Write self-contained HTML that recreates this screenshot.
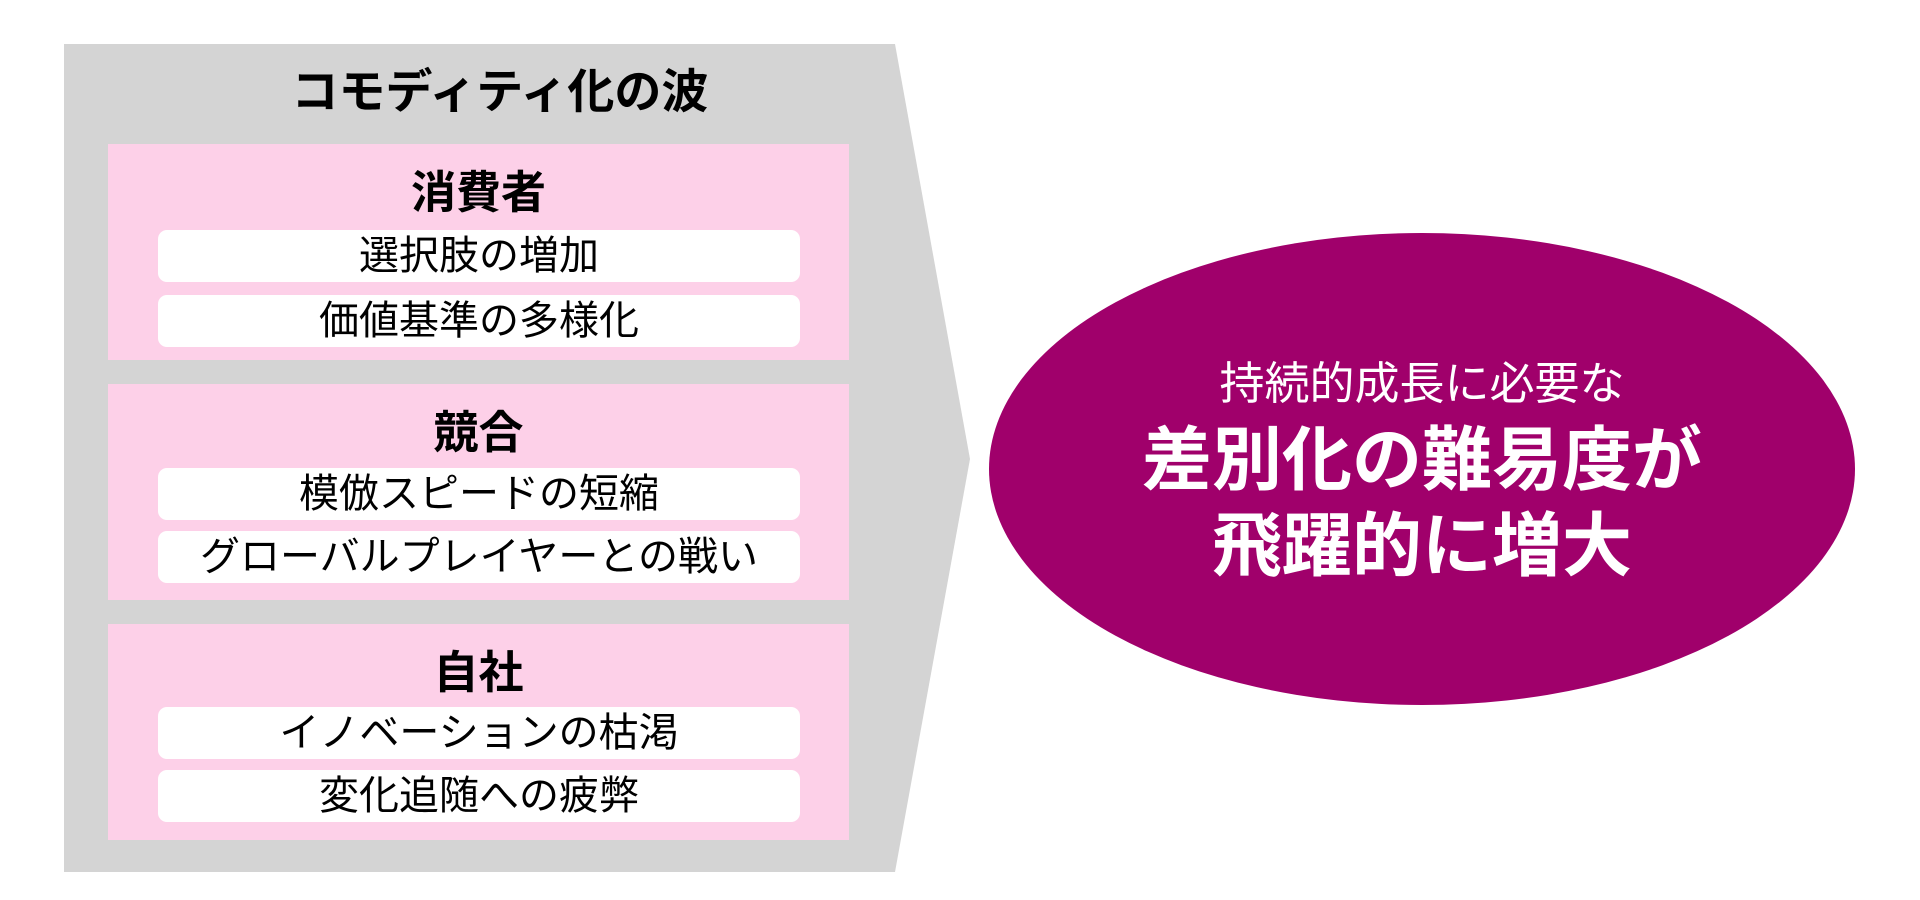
<!DOCTYPE html>
<html><head><meta charset="utf-8"><style>
body{margin:0;width:1920px;height:900px;background:#fff;position:relative;overflow:hidden;font-family:"Liberation Sans","Noto Sans CJK JP",sans-serif;}
.a{position:absolute;}
.pink{position:absolute;left:108px;width:741px;height:216px;background:#FDD0E8;}
.h{position:absolute;left:0;width:100%;text-align:center;font-weight:bold;font-size:45px;line-height:50px;top:24px;color:#000;}
.w{position:absolute;left:50px;width:642px;height:52px;background:#fff;border-radius:9px;text-align:center;font-size:40px;line-height:52px;color:#000;}
.e{position:absolute;width:100%;text-align:center;color:#fff;left:0;}
</style></head><body>
<svg class="a" style="left:0;top:0" width="1920" height="900">
<polygon points="64,44 895,44 970,459 895,872 64,872" fill="#D4D4D4"/>
<ellipse cx="1422" cy="469" rx="433" ry="236" fill="#A0006B"/>
</svg>
<div class="a" style="left:64px;width:872px;top:64px;text-align:center;font-weight:bold;font-size:47px;line-height:56px;">コモディティ化の波</div>
<div class="pink" style="top:144px"><div class="h">消費者</div>
<div class="w" style="top:86px">選択肢の増加</div><div class="w" style="top:151px">価値基準の多様化</div></div>
<div class="pink" style="top:384px"><div class="h">競合</div>
<div class="w" style="top:84px">模倣スピードの短縮</div><div class="w" style="top:147px">グローバルプレイヤーとの戦い</div></div>
<div class="pink" style="top:624px"><div class="h">自社</div>
<div class="w" style="top:83px">イノベーションの枯渇</div><div class="w" style="top:146px">変化追随への疲弊</div></div>
<div class="a" style="left:989px;width:866px;top:0;height:900px;">
<div class="e" style="top:358px;font-size:45px;line-height:52px;">持続的成長に必要な</div>
<div class="e" style="top:420px;font-size:70px;line-height:80px;font-weight:bold;">差別化の難易度が</div>
<div class="e" style="top:506px;font-size:70px;line-height:80px;font-weight:bold;">飛躍的に増大</div>
</div>
</body></html>
